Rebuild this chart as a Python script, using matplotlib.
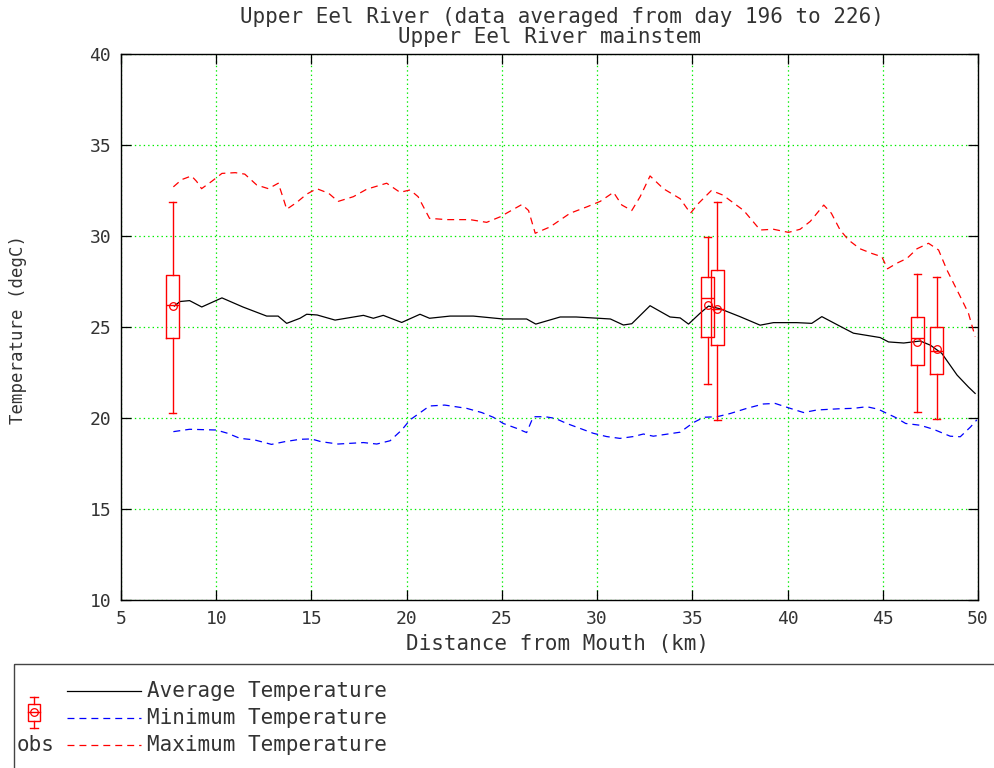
import matplotlib
matplotlib.use('Agg')
import matplotlib.pyplot as plt
from matplotlib.patches import Rectangle

# ---------------- data ----------------
avg_x = [7.8, 8.1, 8.6, 9.24, 10.3, 11.4, 12.65, 13.25, 13.7, 14.4, 14.75, 15.3, 16.24,
         17.73, 18.25, 18.77, 19.74, 20.7, 21.2, 22.28, 23.5, 25.07, 26.3, 26.78, 28.06,
         28.9, 30.07, 30.7, 31.38, 31.82, 32.78, 33.83, 34.36, 34.8, 35.4, 35.85, 36.46,
         37.5, 38.56, 39.26, 40.48, 41.27, 41.8, 42.76, 43.46, 44.16, 44.86, 45.3, 46.1,
         46.97, 47.5, 48.1, 48.9, 49.5, 49.85]
avg_y = [26.15, 26.4, 26.45, 26.1, 26.6, 26.1, 25.6, 25.6, 25.2, 25.48, 25.7, 25.66, 25.38,
         25.64, 25.48, 25.64, 25.25, 25.7, 25.48, 25.6, 25.6, 25.44, 25.44, 25.16, 25.55,
         25.55, 25.48, 25.44, 25.11, 25.18, 26.17, 25.55, 25.5, 25.16, 25.75, 26.15, 26.0,
         25.57, 25.1, 25.24, 25.24, 25.2, 25.57, 25.04, 24.66, 24.54, 24.42, 24.18, 24.12,
         24.23, 24.0, 23.55, 22.36, 21.7, 21.35]

min_x = [7.75, 8.6, 10.0, 10.6, 11.25, 12.0, 12.9, 13.6, 14.4, 15.0, 15.5, 16.4, 17.73,
         18.43, 19.13, 19.74, 20.18, 21.2, 22.0, 23.15, 23.94, 24.55, 25.07, 25.78, 26.3,
         26.65, 27.27, 27.8, 28.4, 29.1, 29.8, 30.5, 31.2, 31.9, 32.43, 32.95, 34.36, 35.06,
         35.6, 36.3, 37.0, 37.86, 38.73, 39.35, 40.14, 40.84, 41.54, 42.76, 43.46, 44.16,
         44.77, 45.2, 45.65, 46.2, 46.97, 47.66, 48.54, 49.07, 49.6, 49.94]
min_y = [19.25, 19.38, 19.34, 19.16, 18.88, 18.8, 18.55, 18.7, 18.83, 18.85, 18.7, 18.57,
         18.65, 18.57, 18.75, 19.34, 19.9, 20.66, 20.71, 20.53, 20.3, 20.04, 19.7, 19.43,
         19.2, 20.07, 20.07, 19.98, 19.7, 19.43, 19.16, 18.98, 18.88, 18.98, 19.12, 19.0,
         19.22, 19.75, 20.04, 20.07, 20.25, 20.53, 20.77, 20.8, 20.53, 20.3, 20.44, 20.51,
         20.53, 20.62, 20.48, 20.26, 20.04, 19.7, 19.6, 19.38, 19.0, 18.97, 19.5, 19.9]

max_x = [7.75, 8.19, 8.7, 8.97, 9.23, 9.76, 10.3, 11.0, 11.5, 12.13, 12.74, 13.26, 13.52,
         13.7, 14.22, 14.75, 15.28, 15.9, 16.4, 17.2, 17.9, 18.95, 19.65, 20.18, 20.6, 21.2,
         22.1, 23.33, 24.2, 24.9, 26.05, 26.4, 26.75, 27.53, 28.58, 29.46, 30.16, 30.86,
         31.3, 31.82, 32.26, 32.78, 33.48, 34.36, 34.9, 35.33, 36.0, 36.6, 37.7, 38.56,
         39.26, 40.05, 40.66, 41.19, 41.9, 42.3, 42.76, 43.2, 43.8, 44.43, 44.95, 45.25,
         45.73, 46.27, 46.8, 47.4, 47.93, 48.37, 49.07, 49.5, 49.85]
max_y = [32.7, 33.1, 33.3, 33.0, 32.6, 33.0, 33.44, 33.48, 33.4, 32.8, 32.6, 32.9, 32.07,
         31.47, 31.84, 32.3, 32.6, 32.35, 31.9, 32.16, 32.57, 32.9, 32.4, 32.53, 32.16, 30.97,
         30.9, 30.9, 30.75, 31.05, 31.73, 31.4, 30.15, 30.5, 31.25, 31.6, 31.9, 32.4,
         31.7, 31.4, 32.16, 33.3, 32.6, 32.05, 31.25, 31.8, 32.5, 32.25, 31.4, 30.33,
         30.37, 30.2, 30.37, 30.8, 31.7, 31.25, 30.33, 29.78, 29.3, 29.04, 28.86, 28.2,
         28.5, 28.77, 29.3, 29.6, 29.23, 28.13, 26.67, 25.75, 24.47]

# observed boxes
obs_pos = [7.71, 35.81, 36.32, 46.81, 47.83]
obs_q1 = [24.4, 24.43, 24.0, 22.91, 22.42]
obs_med = [26.2, 26.57, 25.97, 24.37, 23.7]
obs_q3 = [27.87, 27.73, 28.13, 25.53, 25.02]
obs_lo = [20.26, 21.87, 19.9, 20.31, 19.93]
obs_hi = [31.87, 29.96, 31.85, 27.91, 27.77]
obs_mean = [26.15, 26.2, 25.97, 24.16, 23.79]

x_ticks = [5, 10, 15, 20, 25, 30, 35, 40, 45, 50]
y_ticks = [10, 15, 20, 25, 30, 35, 40]

title1 = 'Upper Eel River (data averaged from day 196 to 226)'
title2 = 'Upper Eel River mainstem'
xlabel = 'Distance from Mouth (km)'
ylabel = 'Temperature (degC)'
legend_labels = ['Average Temperature', 'Minimum Temperature', 'Maximum Temperature']

# ---------------- style ----------------
plt.rcParams['font.family'] = ['DejaVu Sans Mono']
plt.rcParams['lines.scale_dashes'] = False
TXT = '#333333'
BIG = 15

W, H = 994, 768
fig = plt.figure(figsize=(W / 100, H / 100), dpi=100)
ax = fig.add_axes([121 / W, 1 - 600 / H, 857 / W, 546 / H])

dash = (5.0, 3.6)
ax.plot(avg_x, avg_y, color='black', lw=0.9, zorder=3)
ax.plot(min_x, min_y, color='blue', lw=0.9, dashes=dash, zorder=3)
ax.plot(max_x, max_y, color='red', lw=0.9, dashes=dash, zorder=3)

stats = []
for i in range(len(obs_pos)):
    stats.append(dict(med=obs_med[i], q1=obs_q1[i], q3=obs_q3[i],
                      whislo=obs_lo[i], whishi=obs_hi[i], mean=obs_mean[i], fliers=[]))
red_line = dict(color='red', lw=1.0)
ax.bxp(stats, positions=obs_pos, widths=0.7, capwidths=0.38, showmeans=True,
       boxprops=red_line, whiskerprops=red_line, capprops=red_line, medianprops=red_line,
       meanprops=dict(marker='o', markerfacecolor='none', markeredgecolor='red',
                      markersize=5.5, markeredgewidth=0.9),
       manage_ticks=False, zorder=4)

ax.set_xlim(5, 50)
ax.set_ylim(10, 40)
ax.set_xticks(x_ticks)
ax.set_yticks(y_ticks)
ax.set_xticklabels([str(t) for t in x_ticks])
ax.set_yticklabels([str(t) for t in y_ticks])
ax.grid(True, color='#00ee00', linestyle=(0, (1.0, 2.2)), lw=0.9)
ax.set_axisbelow(True)
ax.tick_params(direction='in', length=7, width=0.9, top=True, right=True,
               labelsize=13, colors='black', labelcolor=TXT)
ax.tick_params(axis='x', pad=7)
ax.tick_params(axis='y', pad=7)
for s in ax.spines.values():
    s.set_linewidth(1.0)
    s.set_color('black')

fig.text(562 / W, 1 - 17 / H, title1, ha='center', va='center', fontsize=BIG, color=TXT)
fig.text(549.5 / W, 1 - 37 / H, title2, ha='center', va='center', fontsize=BIG, color=TXT)
fig.text(557 / W, 1 - 644 / H, xlabel, ha='center', va='center', fontsize=BIG, color=TXT)
fig.text(18 / W, 1 - 329 / H, ylabel, ha='center', va='center', rotation=90,
         fontsize=12.5, color=TXT)

# ---------------- legend (pixel layout overlay) ----------------
lax = fig.add_axes([0, 0, 1, 1], zorder=-1)
lax.set_xlim(0, W)
lax.set_ylim(H, 0)
lax.axis('off')
lax.add_patch(Rectangle((14, 664), 1200, 300, fill=False, edgecolor='#444444', lw=1.0))
leg_styles = [dict(color='black'), dict(color='blue', dashes=dash), dict(color='red', dashes=dash)]
leg_y = [691, 718, 745]
for lab, st, yy in zip(legend_labels, leg_styles, leg_y):
    lax.plot([67, 141], [yy, yy], lw=0.9, **st)
    lax.text(147, yy, lab, ha='left', va='center', fontsize=BIG, color=TXT)
# box icon
lax.plot([34, 34], [697, 704], color='red', lw=1)
lax.plot([34, 34], [721, 728], color='red', lw=1)
lax.plot([30, 38], [697, 697], color='red', lw=1)
lax.plot([30, 38], [728, 728], color='red', lw=1)
lax.add_patch(Rectangle((28, 704), 12, 17, fill=False, edgecolor='red', lw=1))
lax.plot([28, 40], [712, 712], color='red', lw=1)
lax.plot([34], [712], marker='o', mfc='none', mec='red', ms=5.5, mew=0.9)
lax.text(36, 745, 'obs', ha='center', va='center', fontsize=BIG, color=TXT)

fig.savefig('out.png', dpi=100)
